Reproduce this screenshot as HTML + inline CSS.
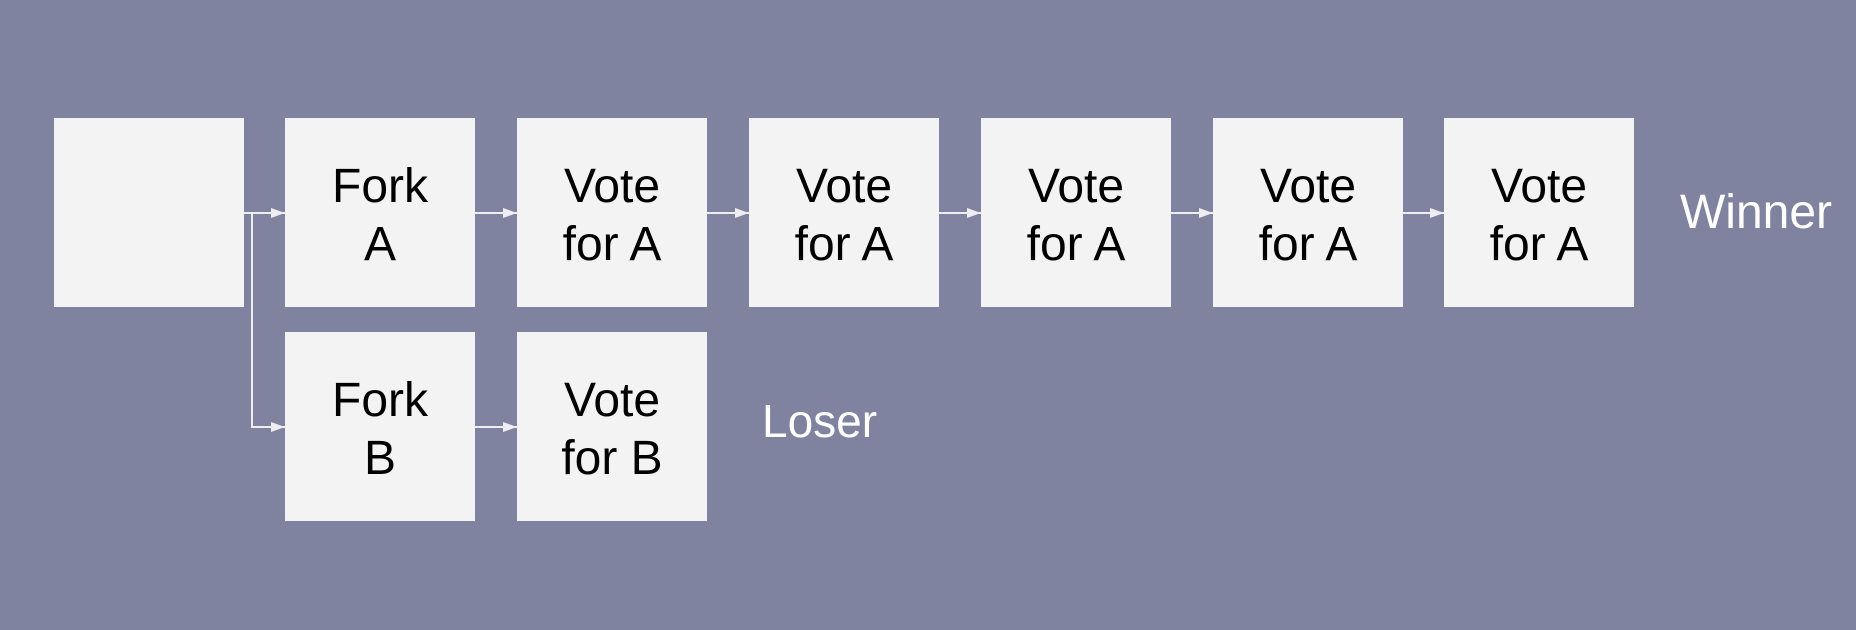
<!DOCTYPE html>
<html><head><style>html,body{margin:0;padding:0;background:#8083a0;}</style></head>
<body>
<svg width="1856" height="630" xmlns="http://www.w3.org/2000/svg" style="display:block">
<rect width="1856" height="630" fill="#8083a0"/>
<defs><marker id="ar" markerWidth="14" markerHeight="12" refX="14" refY="6" orient="auto" markerUnits="userSpaceOnUse"><path d="M0,1 L14,6 L0,11 Z" fill="#eeeef2"/></marker></defs>
<g fill="#f3f3f3">
<rect x="54" y="118" width="190" height="189"/>
<rect x="285" y="118" width="190" height="189"/>
<rect x="517" y="118" width="190" height="189"/>
<rect x="749" y="118" width="190" height="189"/>
<rect x="981" y="118" width="190" height="189"/>
<rect x="1213" y="118" width="190" height="189"/>
<rect x="1444" y="118" width="190" height="189"/>
<rect x="285" y="332" width="190" height="189"/>
<rect x="517" y="332" width="190" height="189"/>
</g>
<g stroke="#eeeef2" stroke-width="2" fill="none">
<path d="M244,213 H285" marker-end="url(#ar)"/>
<path d="M252,213 V427 H285" marker-end="url(#ar)"/>
<path d="M475,213 H517" marker-end="url(#ar)"/>
<path d="M707,213 H749" marker-end="url(#ar)"/>
<path d="M939,213 H981" marker-end="url(#ar)"/>
<path d="M1171,213 H1213" marker-end="url(#ar)"/>
<path d="M1403,213 H1444" marker-end="url(#ar)"/>
<path d="M475,427 H517" marker-end="url(#ar)"/>
</g>
<g font-family="Liberation Sans, Arial, sans-serif" font-size="48" fill="#000" text-anchor="middle">
<text x="380" y="202">Fork</text><text x="380" y="260">A</text>
<text x="612" y="202">Vote</text><text x="612" y="260">for A</text>
<text x="844" y="202">Vote</text><text x="844" y="260">for A</text>
<text x="1076" y="202">Vote</text><text x="1076" y="260">for A</text>
<text x="1308" y="202">Vote</text><text x="1308" y="260">for A</text>
<text x="1539" y="202">Vote</text><text x="1539" y="260">for A</text>
<text x="380" y="416">Fork</text><text x="380" y="474">B</text>
<text x="612" y="416">Vote</text><text x="612" y="474">for B</text>
</g>
<g font-family="Liberation Sans, Arial, sans-serif" fill="#ffffff">
<text x="1680" y="228" font-size="48">Winner</text>
<text x="762" y="437" font-size="46">Loser</text>
</g>
</svg>
</body></html>
